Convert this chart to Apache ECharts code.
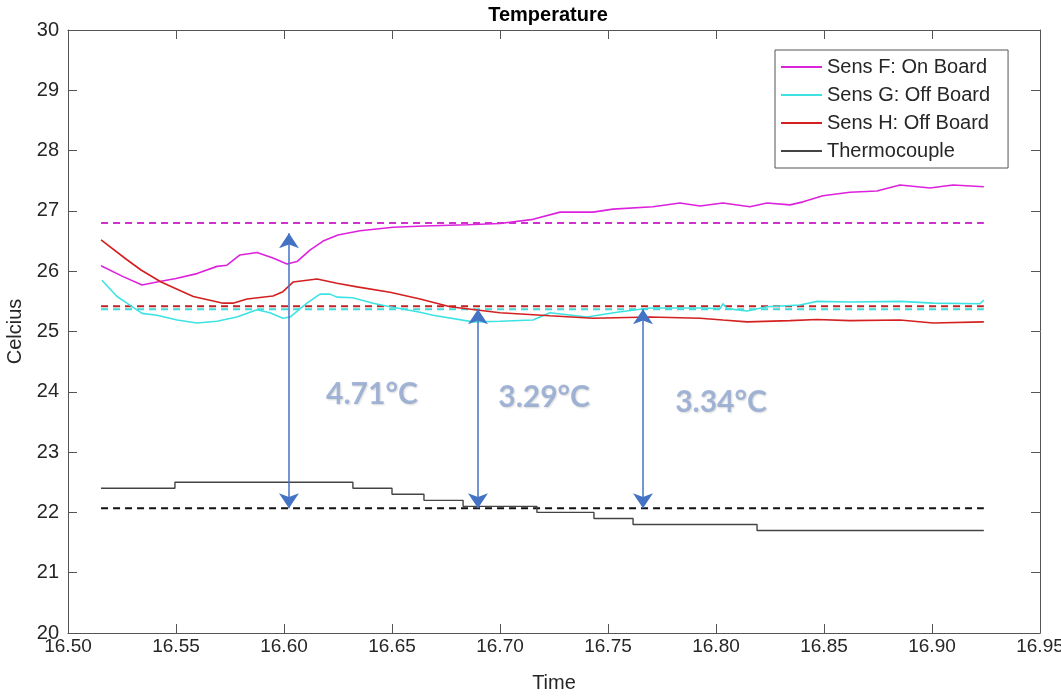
<!DOCTYPE html>
<html>
<head>
<meta charset="utf-8">
<script src="https://cdn.jsdelivr.net/npm/echarts@6/dist/echarts.min.js"></script>
<style>html,body{margin:0;padding:0;background:#fff;}#c{width:1061px;height:698px;}</style>
</head>
<body>
<div id="c"></div>
<script>
// ---- data ----
const sensF = [[16.5153,26.09],[16.5255,25.91],[16.5343,25.77],[16.5412,25.82],[16.5500,25.88],[16.5597,25.96],[16.5690,26.08],[16.5736,26.10],[16.5796,26.27],[16.5875,26.31],[16.5949,26.22],[16.6014,26.12],[16.6060,26.16],[16.6120,26.35],[16.6181,26.50],[16.6250,26.60],[16.6352,26.67],[16.6505,26.73],[16.6650,26.75],[16.6847,26.77],[16.7000,26.79],[16.7153,26.86],[16.7278,26.98],[16.7431,26.98],[16.7523,27.03],[16.7708,27.07],[16.7833,27.13],[16.7926,27.08],[16.8032,27.13],[16.8157,27.07],[16.8236,27.13],[16.8343,27.10],[16.8403,27.15],[16.8495,27.25],[16.8620,27.31],[16.8745,27.33],[16.8852,27.43],[16.8991,27.38],[16.9097,27.43],[16.9240,27.40]];
const sensG = [[16.5157,25.85],[16.5227,25.58],[16.5273,25.47],[16.5343,25.30],[16.5412,25.27],[16.5505,25.19],[16.5597,25.14],[16.5690,25.17],[16.5782,25.24],[16.5875,25.36],[16.5935,25.31],[16.5995,25.22],[16.6028,25.24],[16.6106,25.47],[16.6167,25.62],[16.6213,25.62],[16.6245,25.57],[16.6319,25.56],[16.6412,25.47],[16.6491,25.41],[16.6630,25.32],[16.6690,25.27],[16.6875,25.16],[16.7000,25.17],[16.7153,25.19],[16.7231,25.31],[16.7403,25.24],[16.7542,25.32],[16.7694,25.39],[16.7926,25.39],[16.8019,25.38],[16.8032,25.46],[16.8051,25.38],[16.8144,25.34],[16.8236,25.41],[16.8389,25.44],[16.8468,25.50],[16.8620,25.49],[16.8852,25.50],[16.9005,25.47],[16.9222,25.46],[16.9240,25.52]];
const sensH = [[16.5153,26.52],[16.5273,26.19],[16.5338,26.02],[16.5431,25.82],[16.5523,25.67],[16.5580,25.58],[16.5718,25.47],[16.5764,25.47],[16.5829,25.54],[16.5949,25.59],[16.5995,25.66],[16.6042,25.82],[16.6153,25.87],[16.6245,25.80],[16.6338,25.74],[16.6491,25.65],[16.6630,25.54],[16.6769,25.41],[16.7000,25.31],[16.7231,25.26],[16.7431,25.22],[16.7694,25.24],[16.7926,25.22],[16.8032,25.19],[16.8144,25.16],[16.8343,25.18],[16.8468,25.20],[16.8620,25.18],[16.8852,25.19],[16.9005,25.14],[16.9240,25.16]];
const thermo = [[16.5153,22.4],[16.5495,22.5],[16.6319,22.4],[16.6500,22.3],[16.6648,22.2],[16.6829,22.1],[16.7171,22.0],[16.7435,21.9],[16.7616,21.8],[16.8190,21.7],[16.9240,21.7]];
const dataStart = 16.5153, dataEnd = 16.9240;
const meanF = 26.80, meanG = 25.37, meanH = 25.42, meanT = 22.07;
const arrows = [[16.6023, 26.63, 22.07],[16.6898, 25.37, 22.07],[16.7662, 25.37, 22.07]];
const notes = [[16.6407, 23.95, '4.71°C'],[16.7204, 23.91, '3.29°C'],[16.8023, 23.83, '3.34°C']];
const legendNames = ['Sens F: On Board','Sens G: Off Board','Sens H: Off Board','Thermocouple'];

const font = 'Liberation Sans, Arial, sans-serif';
const axisCol = '#555';
const txtCol = '#262626';

function line(name, data, color, width, extra) {
  return Object.assign({ name, type:'line', data, symbol:'none', showSymbol:false,
    lineStyle:{color, width}, itemStyle:{color}, silent:true, z:3, xAxisIndex:0, yAxisIndex:0 }, extra||{});
}
function hline(name, v, color) {
  return line(name, [[dataStart, v],[dataEnd, v]], color, 2, {lineStyle:{color, width:2, type:[7,5]}, z:2});
}

const chart = echarts.init(document.getElementById('c'), null, {renderer:'canvas'});
const xCommon = { type:'value', min:16.5, max:16.95, interval:0.05,
  axisLine:{show:true, onZero:false, lineStyle:{color:axisCol, width:1}},
  axisTick:{show:true, inside:true, length:9, lineStyle:{color:axisCol}},
  splitLine:{show:false} };
const yCommon = { type:'value', min:20, max:30, interval:1,
  axisLine:{show:true, onZero:false, lineStyle:{color:axisCol, width:1}},
  axisTick:{show:true, inside:true, length:9, lineStyle:{color:axisCol}},
  splitLine:{show:false} };

chart.setOption({
  animation:false,
  backgroundColor:'#fff',
  title:{ text:'Temperature', left:548, top:5, textAlign:'center', padding:0,
    textStyle:{fontFamily:font, fontWeight:'bold', fontSize:20, color:'#000'} },
  grid:{ left:68, right:21, top:30, bottom:65, containLabel:false, outerBoundsMode:'none' },
  legend:{ data:legendNames, orient:'vertical', left:775, top:50,
    padding:[7,18,7,6], itemGap:8, itemWidth:41, itemHeight:2,
    borderColor:'#555', borderWidth:1, backgroundColor:'#fff',
    textStyle:{fontFamily:font, fontSize:20, color:txtCol, lineHeight:20},
    selectedMode:false, icon:'rect' },
  xAxis:[
    Object.assign({}, xCommon, { position:'bottom', name:'Time', nameLocation:'middle', nameGap:40,
      nameTextStyle:{fontFamily:font, fontSize:20, color:txtCol},
      axisLabel:{fontFamily:font, fontSize:19, color:txtCol, margin:4, formatter:v=>v.toFixed(2)} }),
    Object.assign({}, xCommon, { position:'top', axisLabel:{show:false} })
  ],
  yAxis:[
    Object.assign({}, yCommon, { position:'left', name:'Celcius', nameLocation:'middle', nameGap:38,
      nameTextStyle:{fontFamily:font, fontSize:20, color:txtCol},
      axisLabel:{fontFamily:font, fontSize:20, color:txtCol, margin:9} }),
    Object.assign({}, yCommon, { position:'right', axisLabel:{show:false} })
  ],
  series:[
    hline('meanF', meanF, '#D030D0'),
    hline('meanH', meanH, '#C02020'),
    hline('meanG', meanG, '#40D8D8'),
    hline('meanT', meanT, '#111'),
    line(legendNames[0], sensF, '#DD22DD', 1.6),
    line(legendNames[1], sensG, '#3DE3E3', 1.6),
    line(legendNames[2], sensH, '#D42020', 1.6),
    line(legendNames[3], thermo, '#444', 1.4, {step:'end'}),
    { name:'arrows', type:'line', data:[], silent:true, z:5,
      markLine:{ silent:true, symbol:['arrow','arrow'], symbolSize:[15,15], animation:false,
        label:{show:false}, lineStyle:{color:'#4472C4', width:1.5, type:'solid'},
        emphasis:{disabled:true},
        data: arrows.map(a=>[{coord:[a[0],a[1]]},{coord:[a[0],a[2]]}]) } },
    { name:'notes', type:'scatter', data:notes.map(n=>({value:[n[0],n[1]], note:n[2]})),
      symbolSize:0, silent:true, z:6,
      label:{ show:true, position:'inside', formatter:p=>p.data.note,
        fontFamily:'Lato, Open Sans, sans-serif', fontWeight:'bold', fontSize:30, color:'#8FA6CF',
        textShadowColor:'rgba(0,0,0,0.2)', textShadowBlur:2, textShadowOffsetX:1, textShadowOffsetY:1 } }
  ]
});
</script>
</body>
</html>
